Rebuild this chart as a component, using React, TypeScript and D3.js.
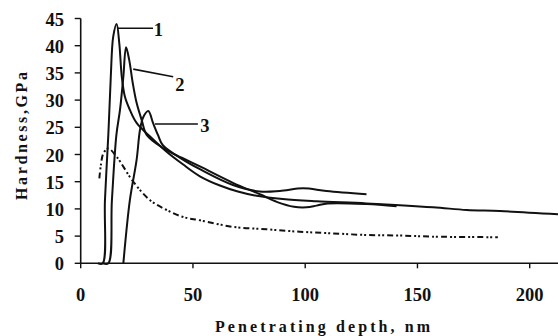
import React from "react";
import * as d3 from "d3";

const W = 558;
const H = 336;

const xTicks = [0, 50, 100, 150, 200];
const yTicks = [0, 5, 10, 15, 20, 25, 30, 35, 40, 45];

const curve1: [number, number][] = [
  [7.7, 0], [9.8, 0], [10.8, 11.6], [12.3, 23.6], [13.4, 34.3], [14.5, 41.7], [16.0, 44.0],
  [17.2, 40.4], [18.3, 34.3], [19.7, 30.6], [21.9, 28.2], [24.9, 25.8], [30.9, 23.3],
  [38.0, 20.6], [45.5, 18.2], [53.1, 16.0], [62.0, 14.3], [70.0, 13.2], [78.4, 12.4],
  [90.0, 11.8], [105.0, 11.4], [127.3, 11.0], [156.9, 10.3], [171.9, 9.8], [186.7, 9.6], [213, 9.0],
];

const curve2: [number, number][] = [
  [9.9, 0], [12.3, 0], [13.9, 11.6], [15.9, 23.6], [17.5, 28.2], [19.0, 34.3], [20.2, 39.7],
  [21.6, 37.4], [23.2, 33.1], [24.9, 29.5], [27.2, 26.3], [29.4, 23.6], [36.6, 21.2],
  [45.0, 19.4], [53.1, 17.8], [67.8, 14.8], [79.8, 12.7], [87.3, 11.3], [95.0, 10.4],
  [100.6, 10.3], [105.0, 10.6], [110.0, 11.0], [127.3, 10.9], [140.7, 10.5],
];

const curve3: [number, number][] = [
  [19.0, 0], [21.9, 11.6], [24.9, 19.0], [26.4, 24.5], [27.9, 26.9], [30.1, 28.0],
  [32.3, 25.7], [34.4, 23.6], [36.6, 21.7], [45.0, 19.2], [53.1, 17.3], [67.8, 14.4],
  [79.8, 13.2], [88.7, 13.3], [99.1, 13.8], [109.5, 13.3], [127.3, 12.7],
];

const dashed: [number, number][] = [
  [8.3, 15.6], [9.0, 18.1], [10.1, 20.2], [12.3, 21.1], [16.0, 19.6], [23.4, 15.0],
  [30.9, 11.6], [38.3, 9.8], [45.7, 8.5], [53.1, 7.9], [67.8, 6.7], [82.8, 6.25],
  [97.6, 5.8], [112.3, 5.5], [127.3, 5.2], [142.2, 5.1], [156.9, 4.9], [185.8, 4.8],
];

const labelNames = ["1", "2", "3"];
const leaderFrom: [number, number][] = [[16.2, 43.2], [23.4, 35.7], [33.1, 25.6]];
const leaderTo: [number, number][] = [[32.2, 43.2], [41.2, 34.3], [52.2, 25.6]];
const labelAt: [number, number][] = [[34.6, 43.0], [44.2, 32.9], [55.3, 25.4]];

export default function App() {
  const x = d3.scaleLinear().domain([0, 212.6]).range([80.7, 558]);
  const y = d3.scaleLinear().domain([0, 45]).range([263.3, 18.5]);
  const line = d3
    .line<[number, number]>()
    .x((d) => x(d[0]))
    .y((d) => y(d[1]))
    .curve(d3.curveCatmullRom.alpha(0.5));

  const font = "'Liberation Serif', 'Times New Roman', serif";
  const ink = "#111";

  return (
    <svg
      width={W}
      height={H}
      style={{ position: "absolute", left: 0, top: 0, background: "#fff" }}
      fontFamily={font}
    >
      <rect x={0} y={0} width={W} height={H} fill="#fff" />
      <line x1={x(0)} x2={W} y1={y(0)} y2={y(0)} stroke={ink} strokeWidth={1.6} />
      <line x1={x(0)} x2={x(0)} y1={y(0)} y2={y(45)} stroke={ink} strokeWidth={1.6} />
      {yTicks.map((t) => (
        <g key={"y" + t}>
          <line x1={x(0) - 6} x2={x(0)} y1={y(t)} y2={y(t)} stroke={ink} strokeWidth={1.4} />
          <text x={64} y={y(t) + 7} textAnchor="end" fontSize={18.5} fontWeight="bold" fill={ink}>
            {t}
          </text>
        </g>
      ))}
      {xTicks.map((t) => (
        <g key={"x" + t}>
          <line x1={x(t)} x2={x(t)} y1={y(0)} y2={y(0) + 5} stroke={ink} strokeWidth={1.4} />
          <text x={x(t)} y={300.5} textAnchor="middle" fontSize={18.5} fontWeight="bold" fill={ink}>
            {t}
          </text>
        </g>
      ))}
      <text
        x={322.5}
        y={332}
        textAnchor="middle"
        fontSize={16}
        fontWeight="bold"
        fill={ink}
        textLength={215}
        lengthAdjust="spacing"
      >
        Penetrating depth, nm
      </text>
      <text
        transform={`translate(26.5,136) rotate(-90)`}
        textAnchor="middle"
        fontSize={16}
        fontWeight="bold"
        fill={ink}
        textLength={128}
        lengthAdjust="spacing"
      >
        Hardness,GPa
      </text>

      <path d={line(dashed) || ""} fill="none" stroke={ink} strokeWidth={2} strokeDasharray="6,3,2,2,2,3" />
      {[curve1, curve2, curve3].map((c, i) => (
        <path key={"c" + i} d={line(c) || ""} fill="none" stroke={ink} strokeWidth={2} strokeLinejoin="round" />
      ))}

      {labelNames.map((n, i) => (
        <g key={"l" + n}>
          <line
            x1={x(leaderFrom[i][0])}
            y1={y(leaderFrom[i][1])}
            x2={x(leaderTo[i][0])}
            y2={y(leaderTo[i][1])}
            stroke={ink}
            strokeWidth={1.6}
          />
          <text
            x={x(labelAt[i][0])}
            y={y(labelAt[i][1]) + 6.5}
            textAnchor="middle"
            fontSize={18.5}
            fontWeight="bold"
            fill={ink}
          >
            {n}
          </text>
        </g>
      ))}
    </svg>
  );
}
